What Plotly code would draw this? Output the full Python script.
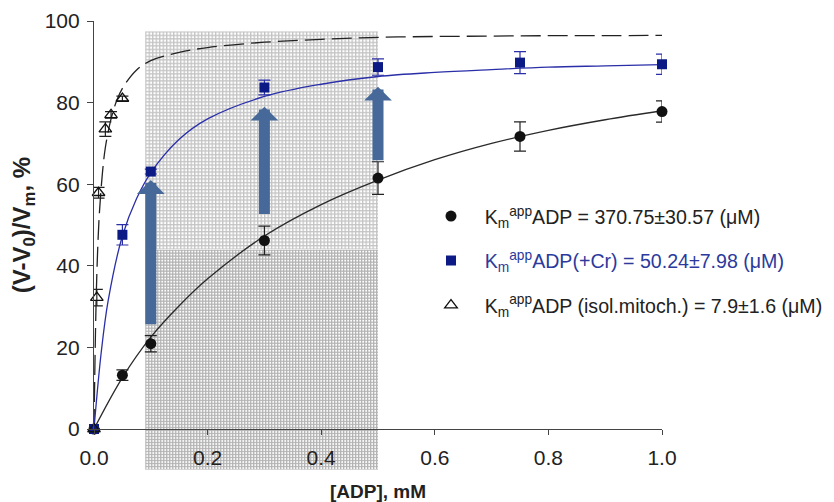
import base64
import plotly.graph_objects as go

# ---------------- data ----------------
# control (black circles)
adp_ctrl = [0, 0.05, 0.1, 0.3, 0.5, 0.75, 1.0]
v_ctrl = [0, 13.2, 20.9, 46.2, 61.5, 71.7, 77.8]
e_ctrl = [0, 1.3, 2.0, 3.5, 4.0, 3.6, 2.6]

# + creatine (blue squares)
adp_cr = [0, 0.05, 0.1, 0.3, 0.5, 0.75, 1.0]
v_cr = [0, 47.6, 63.1, 83.7, 88.7, 89.8, 89.4]
e_cr = [0, 2.5, 0.6, 1.8, 2.0, 2.7, 2.5]

# isolated mitochondria (open triangles)
adp_mito = [0, 0.005, 0.008, 0.02, 0.03, 0.05]
v_mito = [0, 32.2, 57.9, 73.5, 77.0, 81.0]
e_mito = [0, 2.0, 1.3, 1.8, 0.8, 0.6]

# fitted curves
fit_ctrl_x = [0, 0.05, 0.1, 0.15, 0.2, 0.3, 0.4, 0.5, 0.6, 0.7, 0.8, 0.9, 1.0]
fit_ctrl_y = [0, 12.6, 22.5, 30.2, 36.8, 47.3, 55.0, 61.0, 66.0, 70.0, 73.2, 75.8, 78.0]

fit_cr_x = [0, 0.0125, 0.025, 0.05, 0.075, 0.1, 0.15, 0.2, 0.3, 0.4, 0.5, 0.6, 0.7, 0.8, 0.9, 1.0]
fit_cr_y = [0, 18.5, 31.5, 47.3, 56.5, 62.8, 71.0, 76.0, 81.5, 84.5, 86.4, 87.4, 88.1, 88.7, 89.0, 89.3]

fit_mito_x = [0, 0.0025, 0.005, 0.0075, 0.01, 0.015, 0.02, 0.03, 0.04, 0.05, 0.075, 0.1,
              0.15, 0.2, 0.3, 0.4, 0.5, 0.6, 0.7, 0.8, 0.9, 1.0]
fit_mito_y = [0, 23, 38, 47.5, 54, 63, 69, 76, 80.5, 83.5, 88, 90.3,
              92.3, 93.5, 94.8, 95.5, 96.0, 96.2, 96.3, 96.4, 96.4, 96.5]

# arrows: x position, tail value, tip value
arrow_x = [0.1, 0.3, 0.5]
arrow_from = [25.3, 52.3, 65.5]
arrow_to = [61.0, 79.0, 83.9]

# shaded band (data units)
band_x = [0.09, 0.5]
band_y_top = 97.5
band_y_split = 44.0
band_y_bottom = -10.0

x_ticks = [0, 0.2, 0.4, 0.6, 0.8, 1.0]
x_ticktext = ["0.0", "0.2", "0.4", "0.6", "0.8", "1.0"]
y_ticks = [0, 20, 40, 60, 80, 100]

PAD = "\u2002\u2009"
names = [
    PAD + "K<sub>m</sub><sup>app</sup>ADP = 370.75±30.57 (μM)",
    PAD + "<span style='color:#2b3a9c'>K<sub>m</sub><sup>app</sup>ADP(+Cr) = 50.24±7.98 (μM)</span>",
    PAD + "K<sub>m</sub><sup>app</sup>ADP (isol.mitoch.) = 7.9±1.6 (μM)",
]

# ---------------- figure ----------------
# the page body adds an 8px offset; margins compensate for it.
# The figure is made a bit wider than the window so the legend never pushes the margin.
W, H = 870, 502
ML, MT = 86, 13
PW, PH = 568, 408
MR, MB = W - ML - PW, H - MT - PH
XR = [0, 1.0]
YR = [0, 100]

BLACK = "#111111"
NAVY = "#0c1a86"
BLUE_LINE = "#2a2fa8"
ARROW = "#46699a"
FONT = "Liberation Sans, Arial, sans-serif"

fig = go.Figure()

fig.add_trace(go.Scatter(x=fit_mito_x, y=fit_mito_y, mode="lines", line_shape="spline",
                         line=dict(color="#222222", width=1.3, dash="20px,7px"),
                         showlegend=False, hoverinfo="skip"))
fig.add_trace(go.Scatter(x=fit_cr_x, y=fit_cr_y, mode="lines", line_shape="spline",
                         line=dict(color=BLUE_LINE, width=1.3),
                         showlegend=False, hoverinfo="skip"))
fig.add_trace(go.Scatter(x=fit_ctrl_x, y=fit_ctrl_y, mode="lines", line_shape="spline",
                         line=dict(color="#2a2a2a", width=1.3),
                         showlegend=False, hoverinfo="skip"))

fig.add_trace(go.Scatter(x=adp_ctrl, y=v_ctrl, mode="markers", name=names[0],
                         legendgroup="a", cliponaxis=False,
                         marker=dict(symbol="circle", size=11, color=BLACK),
                         error_y=dict(type="data", array=e_ctrl, color="#222222",
                                      thickness=1.2, width=6)))
fig.add_trace(go.Scatter(x=adp_cr, y=v_cr, mode="markers", name=names[1],
                         legendgroup="b", cliponaxis=False,
                         marker=dict(symbol="square", size=10, color=NAVY),
                         error_y=dict(type="data", array=e_cr, color=BLUE_LINE,
                                      thickness=1.2, width=6)))
fig.add_trace(go.Scatter(x=adp_mito, y=v_mito, mode="markers", name=names[2],
                         legendgroup="c", cliponaxis=False,
                         marker=dict(symbol="triangle-up-open", size=11, color=BLACK,
                                     line=dict(width=1.3)),
                         error_y=dict(type="data", array=e_mito, color="#222222",
                                      thickness=1.2, width=6)))

for ax_, a0, a1 in zip(arrow_x, arrow_from, arrow_to):
    fig.add_annotation(x=ax_, y=a1, ax=ax_, ay=a0, axref="x", ayref="y",
                       xref="x", yref="y", text="", showarrow=True,
                       arrowhead=1, arrowsize=0.42, arrowwidth=11,
                       arrowcolor=ARROW, standoff=0)


def px(xv):
    return (xv - XR[0]) / (XR[1] - XR[0])


def py(yv):
    return (yv - YR[0]) / (YR[1] - YR[0])


def pattern_svg(w, h, period, line, col):
    svg = (f'<svg xmlns="http://www.w3.org/2000/svg" width="{w:.0f}" height="{h:.0f}">'
           f'<defs><pattern id="p" width="{period}" height="{period}" patternUnits="userSpaceOnUse">'
           f'<rect width="{period}" height="{period}" fill="#ffffff"/>'
           f'<rect width="{line}" height="{period}" fill="{col}"/>'
           f'<rect width="{period}" height="{line}" fill="{col}"/>'
           f'</pattern></defs><rect width="100%" height="100%" fill="url(#p)"/></svg>')
    return "data:image/svg+xml;base64," + base64.b64encode(svg.encode()).decode()


x0p, x1p = px(band_x[0]), px(band_x[1])
for ytop, ybot, period, col in [(band_y_top, band_y_split, 3.5, "#c4c4c4"),
                                (band_y_split, band_y_bottom, 3.0, "#b3b3b3")]:
    wpx = (x1p - x0p) * PW
    hpx = (py(ytop) - py(ybot)) * PH
    fig.add_layout_image(source=pattern_svg(wpx, hpx, period, 1.3, col),
                         xref="paper", yref="paper", x=x0p, y=py(ytop),
                         sizex=x1p - x0p, sizey=py(ytop) - py(ybot),
                         xanchor="left", yanchor="top", sizing="stretch",
                         layer="below", opacity=1)

fig.update_layout(
    width=W, height=H,
    margin=dict(l=ML, r=MR, t=MT, b=MB),
    paper_bgcolor="white", plot_bgcolor="rgba(0,0,0,0)",
    font=dict(family=FONT, color="#222222", size=21),
    showlegend=True,
    legend=dict(x=0.5933, y=0.569, xanchor="left", yanchor="top",
                bgcolor="rgba(0,0,0,0)", font=dict(size=19.6, color="#222222"),
                traceorder="grouped", tracegroupgap=16, itemwidth=30),
)
fig.update_xaxes(range=XR, tickvals=x_ticks, ticktext=x_ticktext,
                 showline=True, linecolor="#444444", linewidth=1.2,
                 ticks="outside", ticklen=5, tickcolor="#444444", tickwidth=1.2,
                 ticklabelstandoff=5, automargin=False,
                 showgrid=False, zeroline=False,
                 title=dict(text="<b>[ADP], mM</b>", font=dict(size=19), standoff=16))
fig.update_yaxes(range=YR, tickvals=y_ticks,
                 showline=True, linecolor="#444444", linewidth=1.2,
                 ticks="outside", ticklen=6, tickcolor="#444444", tickwidth=1.2,
                 ticklabelstandoff=3, automargin=False,
                 showgrid=False, zeroline=False,
                 title=dict(text="<b>(V-V<sub>0</sub>)/V<sub>m</sub>, %</b>",
                            font=dict(size=24), standoff=12))

fig.write_html("out.html")
